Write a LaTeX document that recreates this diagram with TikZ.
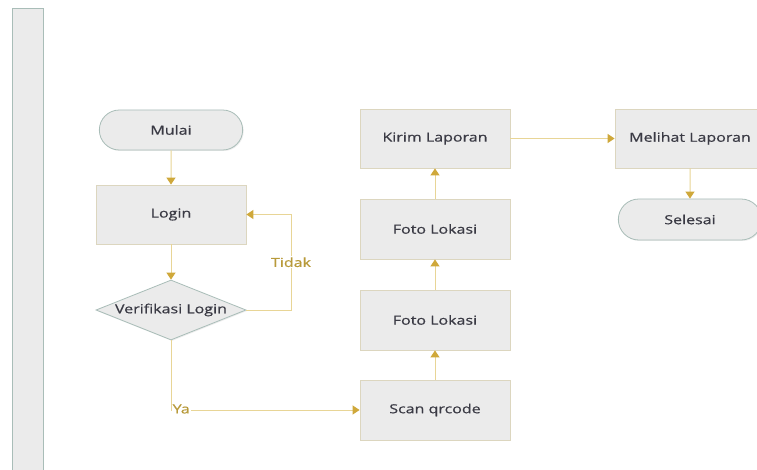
\documentclass[tikz,border=0pt]{standalone}
\usepackage{fontspec}
\setmainfont{Open Sans}[FakeStretch=1.28,FakeBold=0.6]
\usetikzlibrary{arrows.meta,shapes.geometric,shapes.misc,shadows}
\definecolor{boxfill}{HTML}{EBEBEB}
\definecolor{boxline}{HTML}{DCD6BF}
\definecolor{termline}{HTML}{A9BDB8}
\definecolor{flow}{HTML}{E8D596}
\definecolor{tip}{HTML}{CFA83A}
\definecolor{txt}{HTML}{3A3A44}
\definecolor{lbl}{HTML}{B89A3A}
\tikzset{
  x=1pt,y=-1pt,
  base/.style={fill=boxfill,text=txt,font=\fontsize{12.5}{14}\selectfont,line width=0.8pt,
    drop shadow={shadow xshift=1pt,shadow yshift=-1pt,opacity=0.15}},
  procbox/.style={base,draw=boxline,rectangle,minimum width=150pt,minimum height=60pt},
  termbox/.style={base,draw=termline,rounded rectangle,minimum width=150pt,minimum height=40pt},
  decbox/.style={base,draw=termline,diamond,aspect=2.5,minimum width=150pt,minimum height=60pt,inner sep=0pt},
  flowline/.style={draw=flow,line width=1pt,-{Triangle[width=9pt,length=7pt,color=tip]}},
  flowlabel/.style={text=lbl,font=\fontsize{12.5}{14}\selectfont,fill=white,inner sep=1pt}
}
\begin{document}
\begin{tikzpicture}
\useasboundingbox (0,0) rectangle (757,470);
\clip (0,0) rectangle (757,470);
\fill[white] (0,0) rectangle (757,470);
% lane bar
\node[draw=termline,fill=boxfill,line width=1pt,minimum width=31pt,minimum height=480pt,anchor=north west,inner sep=0pt] (lane) at (12,8) {};
% nodes
\node[termbox] (mulai) at (171,130) {Mulai};
\node[procbox,minimum height=59pt] (login) at (171,214.5) {Login};
\node[decbox] (verif) at (171,310) {Verifikasi Login};
\node[procbox] (scan) at (435,410) {Scan qrcode};
\node[procbox] (foto1) at (435,320) {Foto Lokasi};
\node[procbox] (foto2) at (435,229) {Foto Lokasi};
\node[procbox,minimum height=59pt] (kirim) at (435,138.5) {Kirim Laporan};
\node[procbox,minimum height=59pt] (lihat) at (690,138.5) {Melihat Laporan};
\node[termbox,minimum height=41pt] (selesai) at (690,219.5) {Selesai};
% connectors
\draw[flowline] (mulai) -- (login);
\draw[flowline] (login) -- (verif);
\coordinate (tk1) at (291,310);
\coordinate (tk2) at (291,214.5);
\draw[flowline] (verif.east) -- (tk1) -- node[flowlabel,pos=0.5] {Tidak} (tk2) -- (login.east);
\coordinate (ya1) at (171,410);
\draw[flowline] (verif.south) -- (ya1) -- (scan.west);
\node[flowlabel,anchor=west,inner sep=1pt] (yalbl) at (171.5,409) {Ya};
\draw[flowline] (scan) -- (foto1);
\draw[flowline] (foto1) -- (foto2);
\draw[flowline] (foto2) -- (kirim);
\draw[flowline] (kirim) -- (lihat);
\draw[flowline] (lihat) -- (selesai);
\end{tikzpicture}
\end{document}
